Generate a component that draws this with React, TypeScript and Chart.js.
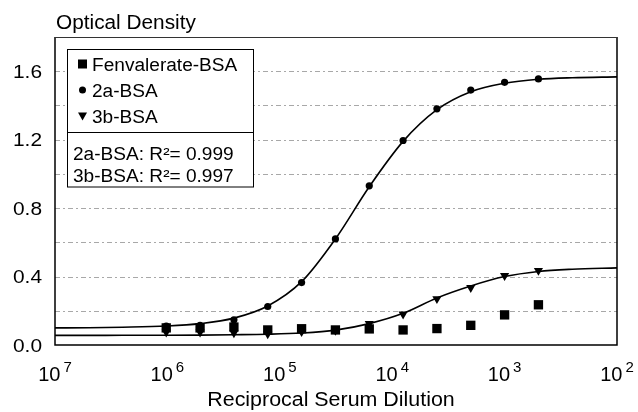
import React, { useEffect, useRef } from 'react';
import { Chart, registerables } from 'chart.js';

Chart.register(...registerables);

// ---- data ----
const dilutions = [1024000, 512000, 256000, 128000, 64000, 32000, 16000, 8000, 4000, 2000, 1000, 500];
const fenvalerateBSA = [0.10, 0.10, 0.105, 0.088, 0.095, 0.088, 0.094, 0.088, 0.096, 0.115, 0.176, 0.235];
const bsa2a = [0.11, 0.115, 0.147, 0.225, 0.365, 0.62, 0.93, 1.195, 1.38, 1.49, 1.535, 1.555];
const bsa3b = [0.075, 0.075, 0.07, 0.065, 0.077, 0.085, 0.125, 0.18, 0.27, 0.335, 0.405, 0.435];

const fitX = [1e7, 5e6, 2.5e6, 1024000, 512000, 256000, 128000, 64000, 32000, 16000, 8000, 4000, 2000, 1000, 500, 250, 100];
const fit2a = [0.100, 0.101, 0.104, 0.111, 0.125, 0.157, 0.228, 0.37, 0.62, 0.925, 1.19, 1.375, 1.48, 1.53, 1.553, 1.562, 1.567];
const fit3b = [0.056, 0.056, 0.057, 0.057, 0.058, 0.060, 0.063, 0.070, 0.087, 0.125, 0.185, 0.275, 0.345, 0.40, 0.43, 0.443, 0.451];

const yTickValues = [0, 0.4, 0.8, 1.2, 1.6];
const yTickLabels = ['0.0', '0.4', '0.8', '1.2', '1.6'];
const yGridValues = [0.2, 0.4, 0.6, 0.8, 1.0, 1.2, 1.4, 1.6];
const xExponents = [7, 6, 5, 4, 3, 2];

const seriesNames = ['Fenvalerate-BSA', '2a-BSA', '3b-BSA'];
const fitNotes = ['2a-BSA: R\u00B2= 0.999', '3b-BSA: R\u00B2= 0.997'];
const yTitle = 'Optical Density';
const xTitle = 'Reciprocal Serum Dilution';

const FONT = '"Liberation Sans", Arial, Helvetica, sans-serif';

function stretchText(ctx: CanvasRenderingContext2D, text: string, x: number, y: number, size: number, align: 'left' | 'center' | 'right', sx: number) {
  ctx.save();
  ctx.font = `${size}px ${FONT}`;
  ctx.textBaseline = 'alphabetic';
  ctx.textAlign = 'left';
  const w = ctx.measureText(text).width * sx;
  const left = align === 'center' ? x - w / 2 : align === 'right' ? x - w : x;
  ctx.translate(left, y);
  ctx.scale(sx, 1);
  ctx.fillStyle = '#000';
  ctx.fillText(text, 0, 0);
  ctx.restore();
}

const gridPlugin = {
  id: 'dashGrid',
  beforeDatasetsDraw(chart: any) {
    const { ctx, chartArea: ca, scales } = chart;
    ctx.save();
    ctx.strokeStyle = '#a8a8a8';
    ctx.lineWidth = 1;
    ctx.setLineDash([5, 3, 2, 3]);
    yGridValues.forEach((v) => {
      const py = Math.round(scales.y.getPixelForValue(v)) + 0.5;
      ctx.beginPath();
      ctx.moveTo(ca.left, py);
      ctx.lineTo(ca.right, py);
      ctx.stroke();
    });
    ctx.restore();
  },
};

const decorPlugin = {
  id: 'decor',
  afterDatasetsDraw(chart: any) {
    const { ctx, chartArea: ca, scales } = chart;
    ctx.save();
    // frame
    ctx.strokeStyle = '#000';
    ctx.lineWidth = 1.5;
    ctx.beginPath();
    ctx.moveTo(ca.left, ca.top);
    ctx.lineTo(ca.left, ca.bottom);
    ctx.lineTo(ca.right, ca.bottom);
    ctx.lineTo(ca.right, ca.top);
    ctx.stroke();
    ctx.lineWidth = 1;
    ctx.strokeStyle = '#333';
    ctx.beginPath();
    ctx.moveTo(ca.left, ca.top + 0.5);
    ctx.lineTo(ca.right, ca.top + 0.5);
    ctx.stroke();

    // y tick labels
    yTickValues.forEach((v, i) => {
      const py = scales.y.getPixelForValue(v);
      stretchText(ctx, yTickLabels[i], 42, py + 6.5, 19, 'right', 1.1);
    });

    // x tick labels 10^n
    xExponents.forEach((e) => {
      const px = scales.x.getPixelForValue(Math.pow(10, e));
      ctx.font = `20px ${FONT}`;
      const wb = ctx.measureText('10').width;
      ctx.font = `15px ${FONT}`;
      const we = ctx.measureText(String(e)).width;
      const total = wb + 3 + we;
      const left = px - total / 2;
      ctx.fillStyle = '#000';
      ctx.textAlign = 'left';
      ctx.textBaseline = 'alphabetic';
      ctx.font = `20px ${FONT}`;
      ctx.fillText('10', left, 381);
      ctx.font = `15px ${FONT}`;
      ctx.fillText(String(e), left + wb + 3, 372);
    });

    // titles
    stretchText(ctx, yTitle, 56, 29, 20, 'left', 1.04);
    stretchText(ctx, xTitle, 331, 406, 20, 'center', 1.07);

    // legend box
    const lx = 67, ly = 49.5, lw = 186, lh = 137.5;
    ctx.fillStyle = '#fff';
    ctx.fillRect(lx, ly, lw, lh);
    ctx.strokeStyle = '#000';
    ctx.lineWidth = 1;
    ctx.strokeRect(lx + 0.5, ly, lw, lh);
    ctx.beginPath();
    ctx.moveTo(lx, 132.5);
    ctx.lineTo(lx + lw, 132.5);
    ctx.stroke();

    const rows = [64, 90, 116];
    ctx.fillStyle = '#000';
    ctx.fillRect(78, rows[0] - 4.5, 9, 9);
    ctx.beginPath();
    ctx.arc(82.5, rows[1], 3.5, 0, Math.PI * 2);
    ctx.fill();
    ctx.beginPath();
    ctx.moveTo(78, rows[2] - 3.5);
    ctx.lineTo(87, rows[2] - 3.5);
    ctx.lineTo(82.5, rows[2] + 4.5);
    ctx.closePath();
    ctx.fill();

    seriesNames.forEach((n, i) => {
      stretchText(ctx, n, 92, rows[i] + 7, 18, 'left', 1.06);
    });
    stretchText(ctx, fitNotes[0], 73, 160, 18, 'left', 1.06);
    stretchText(ctx, fitNotes[1], 73, 182, 18, 'left', 1.06);
    ctx.restore();
  },
};

export default function App() {
  const ref = useRef<HTMLCanvasElement | null>(null);

  useEffect(() => {
    document.body.style.margin = '0';
    const canvas = ref.current;
    if (!canvas) return;
    const pts = (ys: number[]) => dilutions.map((x, i) => ({ x, y: ys[i] }));
    const fit = (ys: number[]) => fitX.map((x, i) => ({ x, y: ys[i] }));

    const chart = new Chart(canvas, {
      type: 'scatter',
      data: {
        datasets: [
          {
            label: seriesNames[0],
            data: pts(fenvalerateBSA),
            pointStyle: 'rect',
            pointRadius: 6.6,
            backgroundColor: '#000',
            borderColor: '#000',
            borderWidth: 0,
          },
          {
            label: seriesNames[1],
            data: pts(bsa2a),
            pointStyle: 'circle',
            pointRadius: 3.6,
            backgroundColor: '#000',
            borderColor: '#000',
            borderWidth: 0,
          },
          {
            label: seriesNames[2],
            data: pts(bsa3b),
            pointStyle: 'triangle',
            rotation: 180,
            pointRadius: 5.3,
            backgroundColor: '#000',
            borderColor: '#000',
            borderWidth: 0,
          },
          {
            label: '2a-BSA fit',
            data: fit(fit2a),
            showLine: true,
            pointRadius: 0,
            borderColor: '#000',
            borderWidth: 1.6,
            cubicInterpolationMode: 'monotone',
            fill: false,
          },
          {
            label: '3b-BSA fit',
            data: fit(fit3b),
            showLine: true,
            pointRadius: 0,
            borderColor: '#000',
            borderWidth: 1.6,
            cubicInterpolationMode: 'monotone',
            fill: false,
          },
        ],
      },
      options: {
        responsive: false,
        animation: false,
        events: [],
        layout: { padding: { top: 37, right: 21, left: 0, bottom: 0 }, autoPadding: false },
        plugins: {
          legend: { display: false },
          tooltip: { enabled: false },
          title: { display: false },
        },
        scales: {
          x: {
            type: 'logarithmic',
            reverse: true,
            min: 100,
            max: 1e7,
            grid: { display: false },
            border: { display: false },
            ticks: { display: false },
            afterFit: (s: any) => { s.height = 67; },
          },
          y: {
            min: 0,
            max: 1.8,
            ticks: { display: false, stepSize: 0.2 },
            grid: { display: false },
            border: { display: false },
            afterFit: (s: any) => { s.width = 55; },
          },
        },
      },
      plugins: [gridPlugin, decorPlugin],
    });
    return () => chart.destroy();
  }, []);

  return (
    <div style={{ position: 'absolute', left: 0, top: 0, width: 638, height: 412, background: '#fff' }}>
      <canvas ref={ref} width={638} height={412} style={{ width: 638, height: 412, display: 'block' }} />
    </div>
  );
}
